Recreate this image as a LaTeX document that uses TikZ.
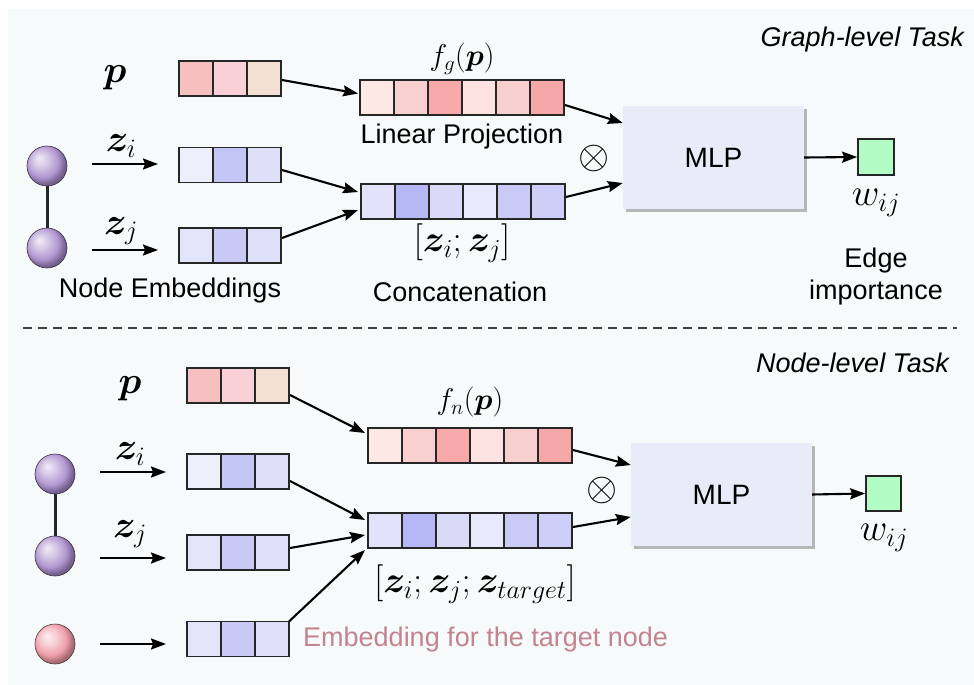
\RequirePackage{fix-cm}
\documentclass[tikz,border=0pt]{standalone}
\usepackage{amsmath,bm}
\usepackage[no-math]{fontspec}
\newfontfamily\labelfont{Liberation Sans}
\usetikzlibrary{arrows.meta,calc,shadows}

% palette
\definecolor{bgpanel}{HTML}{F6FAFA}
\definecolor{pa}{HTML}{F7C0C0}\definecolor{pb}{HTML}{F8D0D5}\definecolor{pc}{HTML}{F3E0D3}
\definecolor{fa}{HTML}{FDE8E6}\definecolor{fb}{HTML}{F9D0D0}\definecolor{fc}{HTML}{F7A9A9}
\definecolor{fd}{HTML}{FCE3E2}\definecolor{fe}{HTML}{F8CFCF}\definecolor{ff}{HTML}{F6A8A8}
\definecolor{za}{HTML}{EEEFFB}\definecolor{zb}{HTML}{C4C7F5}\definecolor{zc}{HTML}{DEE0FA}
\definecolor{ya}{HTML}{E2E4FA}\definecolor{yb}{HTML}{C8CAF5}\definecolor{yc}{HTML}{DFE1FA}
\definecolor{ca}{HTML}{E2E3FA}\definecolor{cb}{HTML}{B6B8F5}\definecolor{cc}{HTML}{D8DAF8}
\definecolor{cd}{HTML}{E8E9FC}\definecolor{ce}{HTML}{C9CBF6}\definecolor{cf}{HTML}{CDCFF8}
\definecolor{mlpfill}{HTML}{E8ECF8}
\definecolor{outgreen}{HTML}{B3FBC4}
\definecolor{rosetext}{HTML}{C4848F}
\definecolor{purpleA}{HTML}{A88BCB}
\definecolor{redA}{HTML}{EE9AA6}

\pgfdeclareradialshading{purpleball}{\pgfpoint{-10bp}{10bp}}{%
  color(0bp)=(purpleA!15!white); color(10bp)=(purpleA!50!white);
  color(20bp)=(purpleA!90!white); color(27bp)=(purpleA!70!black);
  color(50bp)=(purpleA!40!black)}
\pgfdeclareradialshading{redball}{\pgfpoint{-10bp}{10bp}}{%
  color(0bp)=(redA!15!white); color(10bp)=(redA!50!white);
  color(20bp)=(redA!95!white); color(27bp)=(redA!70!black);
  color(50bp)=(redA!40!black)}

% one embedding vector: name, left x, centre y, list of cell colours
\newcommand\cellrow[4]{%
  \foreach \c [count=\k] in {#4}{
    \node[cell, fill=\c] (#1\k) at ({#2+17+34*(\k-1)}, #3) {};
  }}

\begin{document}
\begin{tikzpicture}[x=1pt, y=-1pt,
  cell/.style={draw=black!85, line width=1.7pt, minimum width=34pt,
    minimum height=35pt, inner sep=0pt, outer sep=0pt},
  arr/.style={-{Stealth[length=15pt, width=11pt, inset=2pt]}, line width=2.1pt},
  txt/.style={font=\labelfont\fontsize{27}{32}\selectfont, inner sep=0pt},
  itxt/.style={font=\labelfont\itshape\fontsize{27}{32}\selectfont, inner sep=0pt},
  bigmath/.style={font=\fontsize{38}{44}\selectfont, inner sep=0pt},
  midmath/.style={font=\fontsize{30}{34}\selectfont, inner sep=0pt},
  catmath/.style={font=\fontsize{37}{42}\selectfont, inner sep=0pt},
  prod/.style={font=\fontsize{40}{44}\selectfont, inner sep=0pt},
  mlp/.style={draw=none, fill=mlpfill, minimum width=181pt, minimum height=103pt,
    inner sep=0pt, font=\labelfont\fontsize{28}{32}\selectfont,
    drop shadow={shadow xshift=2.5pt, shadow yshift=-2.5pt, opacity=0.45, fill=black!60}},
  outsq/.style={draw=black!85, line width=1.7pt, fill=outgreen, minimum size=36pt, inner sep=0pt},
  pball/.style={circle, minimum size=40pt, inner sep=0pt, shade, shading=purpleball,
    draw=purpleA!35!black, line width=0.6pt},
  rball/.style={circle, minimum size=40pt, inner sep=0pt, shade, shading=redball,
    draw=redA!35!black, line width=0.6pt},
  edge/.style={line width=3pt, black!85}]

\useasboundingbox (0,0) rectangle (974,685);
\fill[white] (0,0) rectangle (974,685);
\fill[bgpanel] (8,9) rectangle (974,685);

% separator between the two tasks
\draw[black!75, line width=1.3pt, dash pattern=on 9pt off 6pt] (23,328) -- (957,328);

%% ---------------- graph-level task ----------------
\node[itxt, anchor=east] (gtitle) at (964,40) {Graph-level Task};

\node[pball] (ga) at (47,166) {};
\node[pball] (gb) at (47,248) {};
\draw[edge] (ga) -- (gb);

\node[bigmath] (gp) at (115,78) {$\bm{p}$};
\node[bigmath] (gzi) at (121,146) {$\bm{z}_i$};
\node[bigmath] (gzj) at (121,231) {$\bm{z}_j$};
\coordinate (gzis) at (92,164); \coordinate (gzie) at (158,164);
\coordinate (gzjs) at (92,250); \coordinate (gzje) at (158,250);
\draw[arr] (gzis) -- (gzie);
\draw[arr] (gzjs) -- (gzje);

\cellrow{gpv}{179}{78.5}{pa,pb,pc}
\cellrow{gzv}{179}{165}{za,zb,zc}
\cellrow{gyv}{179}{245.5}{ya,yb,yc}
\cellrow{gfv}{360}{97.5}{fa,fb,fc,fd,fe,ff}
\cellrow{gcv}{361}{201.5}{ca,cb,cc,cd,ce,cf}

\node[txt] (gemb) at (170,291) {Node Embeddings};
\node[midmath] (gfl) at (462,59) {$f_g(\bm{p})$};
\node[txt] (glin) at (462,137) {Linear Projection};
\node[catmath] (gcl) at (462,243) {$[\bm{z}_i;\bm{z}_j]$};
\node[txt] (gcat) at (460,292) {Concatenation};

\node[prod] (gx) at (594,158) {$\otimes$};
\node[mlp] (gmlp) at (713.5,157.5) {MLP};
\node[outsq] (gw) at (876,157) {};
\node[bigmath] (gwl) at (876,203) {$w_{ij}$};
\node[txt, align=center] (gimp) at (876,277) {Edge\\importance};

\draw[arr] ($(gpv3.east)+(1,1.5)$) -- ($(gfv1.west)+(-2,-4)$);
\draw[arr] ($(gzv3.east)+(1,5)$) -- ($(gcv1.west)+(-3,-9.5)$);
\draw[arr] ($(gyv3.east)+(1,-7.5)$) -- ($(gcv1.west)+(-3,8.5)$);
\draw[arr] ($(gfv6.east)+(1,7.5)$) -- ($(gmlp.west)+(0,-34.5)$);
\draw[arr] ($(gcv6.east)+(1,-4.5)$) -- ($(gmlp.west)+(0,25.5)$);
\draw[arr] (gmlp.east) -- (gw.west);

%% ---------------- node-level task ----------------
\node[itxt, anchor=east] (ntitle) at (949,363) {Node-level Task};

\node[pball] (na) at (55,474) {};
\node[pball] (nb) at (55,556) {};
\node[rball] (nt) at (55,644) {};
\draw[edge] (na) -- (nb);

\node[bigmath] (np) at (130,389) {$\bm{p}$};
\node[bigmath] (nzi) at (130,454) {$\bm{z}_i$};
\node[bigmath] (nzj) at (130,534) {$\bm{z}_j$};
\coordinate (nzis) at (100,472); \coordinate (nzie) at (166,472);
\coordinate (nzjs) at (100,558); \coordinate (nzje) at (166,558);
\coordinate (ntps) at (100,644); \coordinate (ntpe) at (166,644);
\draw[arr] (nzis) -- (nzie);
\draw[arr] (nzjs) -- (nzje);
\draw[arr] (ntps) -- (ntpe);

\cellrow{npv}{187}{385.5}{pa,pb,pc}
\cellrow{nzv}{187}{471.5}{za,zb,zc}
\cellrow{nyv}{187}{552.5}{ya,yb,yc}
\cellrow{ntv}{187}{639}{ya,yb,yc}
\cellrow{nfv}{368}{445.5}{fa,fb,fc,fd,fe,ff}
\cellrow{ncv}{368}{530.5}{ca,cb,cc,cd,ce,cf}

\node[midmath] (nfl) at (470,402) {$f_n(\bm{p})$};
\node[catmath] (ncl) at (475,584) {$[\bm{z}_i;\bm{z}_j;\bm{z}_{target}]$};
\node[txt, text=rosetext, anchor=west] (ntgt) at (303,640) {Embedding for the target node};

\node[prod] (nx) at (602,490) {$\otimes$};
\node[mlp] (nmlp) at (721.5,494.5) {MLP};
\node[outsq, minimum size=35pt] (nw) at (883.5,493.5) {};
\node[bigmath] (nwl) at (884,538) {$w_{ij}$};

\draw[arr] ($(npv3.east)+(1,9.5)$) -- ($(nfv1.west)+(-3,-12.5)$);
\draw[arr] ($(nzv3.east)+(1,9.5)$) -- ($(ncv1.west)+(-3,-10.5)$);
\draw[arr] ($(nyv3.east)+(1,-4.5)$) -- ($(ncv1.west)+(-3,4.5)$);
\draw[arr] (ntv3.north east) -- ($(ncv1.west)+(-3,19.5)$);
\draw[arr] ($(nfv6.east)+(1,4.5)$) -- ($(nmlp.west)+(0,-29.5)$);
\draw[arr] ($(ncv6.east)+(1,-3.5)$) -- ($(nmlp.west)+(0,22.5)$);
\draw[arr] (nmlp.east) -- (nw.west);

\end{tikzpicture}
\end{document}
